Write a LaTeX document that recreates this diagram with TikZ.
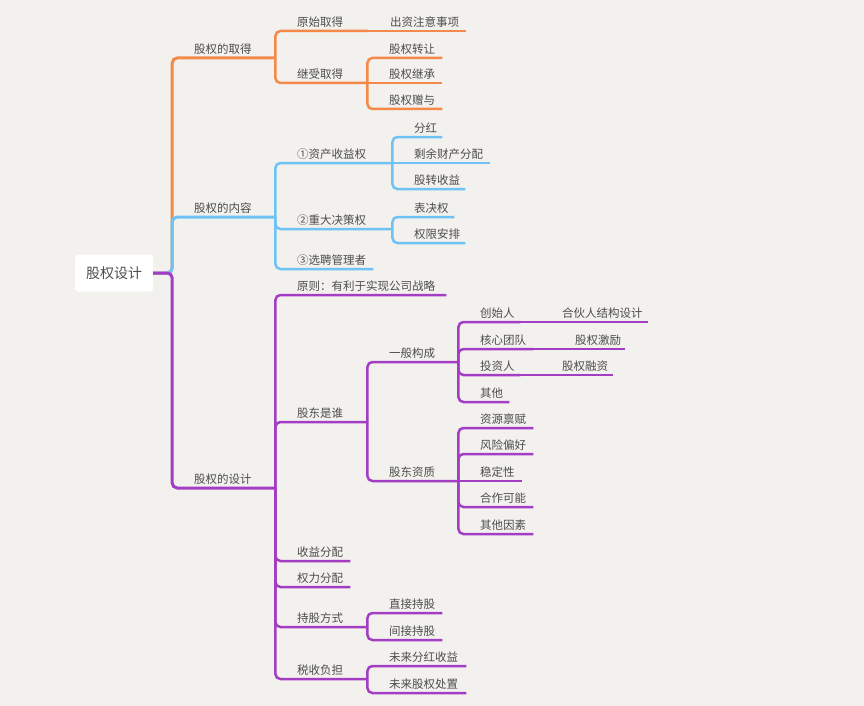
\documentclass[tikz,border=0pt]{standalone}
\usepackage{fontspec}
\setmainfont{Noto Sans CJK SC}
\definecolor{acquire}{HTML}{F5894A}
\definecolor{content}{HTML}{6EC3F4}
\definecolor{design}{HTML}{A33DC4}
\definecolor{paper}{HTML}{F2F1EE}
\definecolor{ink}{HTML}{4D4D4D}
\tikzset{
  topic/.style={anchor=south west, inner xsep=0pt, inner ysep=4.5pt, text depth=0pt,
    text width=#1, align=left, font=\fontsize{11.5}{14}\selectfont, text=ink,
    execute at begin node={\noindent\hspace*{22pt}}},
  fartopic/.style={topic=#1, execute at begin node={\hspace*{20pt}}},
  rootbox/.style={fill=white, rounded corners=3pt, minimum width=78pt,
    minimum height=37pt, font=\fontsize{14}{16}\selectfont, text=ink},
  orangeline/.style={draw=acquire, line width=2.5pt, rounded corners=5pt},
  blueline/.style={orangeline, draw=content},
  purpleline/.style={orangeline, draw=design}
}
\begin{document}
\begin{tikzpicture}[x=1pt, y=-1pt]
  \fill[paper] (0,0) rectangle (864,706);
  \node[rootbox] (root) at (114,273) {股权设计};
  % 股权的取得
  \node[topic=103pt] (acq) at (172,58) {股权的取得};
  \node[topic=93pt] (acq1) at (275,31) {原始取得};
  \node[topic=98pt] (acq11) at (368,31) {出资注意事项};
  \node[topic=92pt] (acq2) at (275,83) {继受取得};
  \node[topic=75pt] (acq21) at (367,58) {股权转让};
  \node[topic=75pt] (acq22) at (367,83) {股权继承};
  \node[topic=75pt] (acq23) at (367,109) {股权赠与};
  % 股权的内容
  \node[topic=103pt] (cnt) at (172,217) {股权的内容};
  \node[topic=117pt] (cnt1) at (275,163) {①资产收益权};
  \node[topic=50pt] (cnt11) at (392,137) {分红};
  \node[topic=98pt] (cnt12) at (392,163) {剩余财产分配};
  \node[topic=73pt] (cnt13) at (392,189) {股转收益};
  \node[topic=117pt] (cnt2) at (275,229) {②重大决策权};
  \node[topic=62pt] (cnt21) at (392,217) {表决权};
  \node[topic=73pt] (cnt22) at (392,243) {权限安排};
  \node[topic=98pt] (cnt3) at (275,269) {③选聘管理者};
  % 股权的设计
  \node[topic=103pt] (dsg) at (172,488) {股权的设计};
  \node[topic=171pt] (dsg1) at (275,295) {原则：有利于实现公司战略};
  \node[topic=92pt] (dsg2) at (275,422) {股东是谁};
  \node[topic=91pt] (who1) at (367,362) {一般构成};
  \node[topic=62pt] (who11) at (458,322) {创始人};
  \node[fartopic=128pt] (who111) at (520,322) {合伙人结构设计};
  \node[topic=75pt] (who12) at (458,349) {核心团队};
  \node[fartopic=92pt] (who121) at (533,349) {股权激励};
  \node[topic=62pt] (who13) at (458,375) {投资人};
  \node[fartopic=93pt] (who131) at (520,375) {股权融资};
  \node[topic=51pt] (who14) at (458,402) {其他};
  \node[topic=91pt] (who2) at (367,481) {股东资质};
  \node[topic=75pt] (who21) at (458,428) {资源禀赋};
  \node[topic=75pt] (who22) at (458,454) {风险偏好};
  \node[topic=64pt] (who23) at (458,481) {稳定性};
  \node[topic=75pt] (who24) at (458,507) {合作可能};
  \node[topic=75pt] (who25) at (458,534) {其他因素};
  \node[topic=75pt] (dsg3) at (275,561) {收益分配};
  \node[topic=75pt] (dsg4) at (275,587) {权力分配};
  \node[topic=92pt] (dsg5) at (275,627) {持股方式};
  \node[topic=75pt] (hold1) at (367,613) {直接持股};
  \node[topic=75pt] (hold2) at (367,640) {间接持股};
  \node[topic=92pt] (dsg6) at (275,679) {税收负担};
  \node[topic=99pt] (tax1) at (367,666) {未来分红收益};
  \node[topic=99pt] (tax2) at (367,693) {未来股权处置};

  \draw[orangeline, line width=3pt] (root.east) -- ++(19,0) |- (acq.south east);
  \draw[blueline, line width=3pt] (root.east) -- ++(19,0) |- (cnt.south east);
  \draw[purpleline, line width=3pt] (root.east) -- ++(19,0) |- (dsg.south east);

  \foreach \c in {acq1,acq2} \draw[orangeline] (acq.south east) |- (\c.south east);
  \draw[orangeline] (acq1.south east) -- (acq11.south east);
  \foreach \c in {acq21,acq23} \draw[orangeline] (acq2.south east) |- (\c.south east);
  \draw[orangeline] (acq2.south east) -- (acq22.south east);

  \foreach \c in {cnt1,cnt2,cnt3} \draw[blueline] (cnt.south east) |- (\c.south east);
  \foreach \c in {cnt11,cnt13} \draw[blueline] (cnt1.south east) |- (\c.south east);
  \draw[blueline] (cnt1.south east) -- (cnt12.south east);
  \foreach \c in {cnt21,cnt22} \draw[blueline] (cnt2.south east) |- (\c.south east);

  \foreach \c in {dsg1,dsg2,dsg3,dsg4,dsg5,dsg6} \draw[purpleline] (dsg.south east) |- (\c.south east);
  \foreach \c in {who1,who2} \draw[purpleline] (dsg2.south east) |- (\c.south east);
  \foreach \c in {who11,who12,who13,who14} \draw[purpleline] (who1.south east) |- (\c.south east);
  \draw[purpleline] (who11.south east) -- (who111.south east);
  \draw[purpleline] (who12.south east) -- (who121.south east);
  \draw[purpleline] (who13.south east) -- (who131.south east);
  \foreach \c in {who21,who22,who24,who25} \draw[purpleline] (who2.south east) |- (\c.south east);
  \draw[purpleline] (who2.south east) -- (who23.south east);
  \foreach \c in {hold1,hold2} \draw[purpleline] (dsg5.south east) |- (\c.south east);
  \foreach \c in {tax1,tax2} \draw[purpleline] (dsg6.south east) |- (\c.south east);
\end{tikzpicture}
\end{document}
